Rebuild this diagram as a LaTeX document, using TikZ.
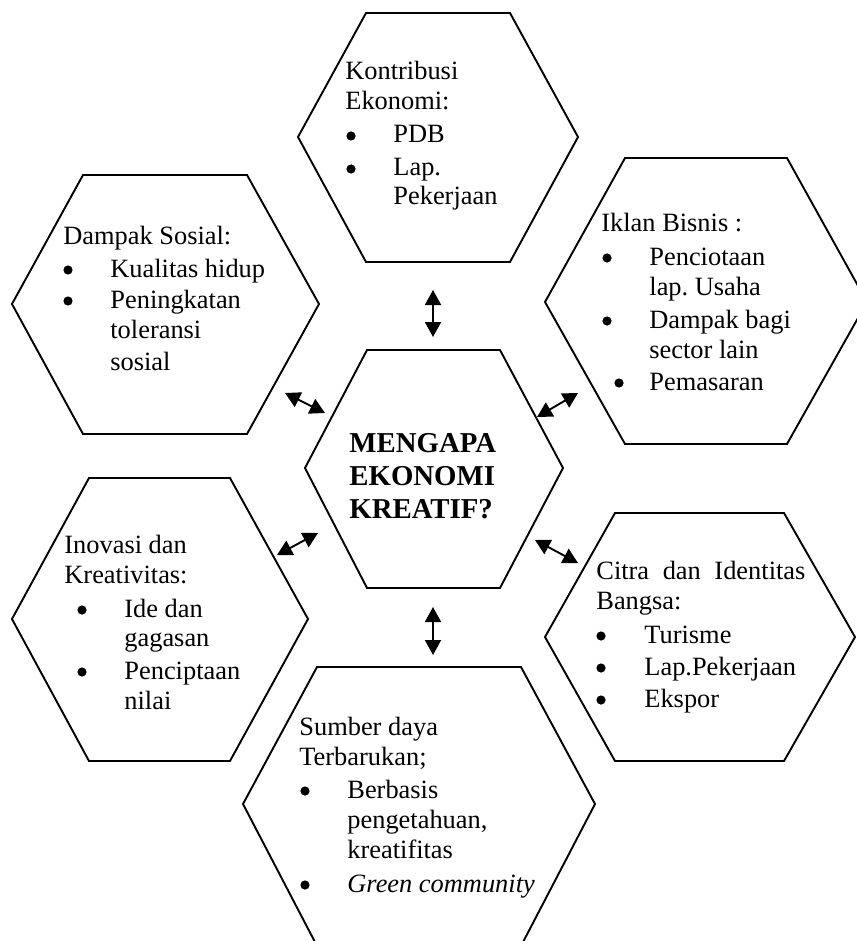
\documentclass[tikz,border=0pt]{standalone}
\usepackage{fontspec}
\setmainfont{Liberation Serif}
\usetikzlibrary{arrows.meta}
\frenchspacing
\begin{document}
\begin{tikzpicture}[x=0.5pt,y=-0.5pt,
  hexa/.style={draw=black, line width=0.95pt, line join=miter},
  txt/.style={anchor=base west, inner sep=0pt, font=\fontsize{13.2pt}{15pt}\selectfont},
  itl/.style={txt, font=\fontsize{13.2pt}{15pt}\selectfont\itshape},
  dot/.style={circle, fill=black, inner sep=0pt, minimum size=4.6pt},
  ttl/.style={anchor=base west, inner sep=0pt, font=\fontsize{14.4pt}{17pt}\selectfont\bfseries},
  link/.style={line width=0.95pt, {Triangle[length=7.5pt,width=8pt]}-{Triangle[length=7.5pt,width=8pt]}}
]
\useasboundingbox (0,0) rectangle (856,941);

% hexagons
\draw[hexa] (298,137) -- (366,13) -- (510,13) -- (578,137) -- (510,262) -- (366,262) -- cycle;
\draw[hexa] (12,304) -- (83,175) -- (247,175) -- (319,304) -- (247,434) -- (83,434) -- cycle;
\draw[hexa] (545,302) -- (625,158) -- (787,158) -- (867,302) -- (787,444) -- (625,444) -- cycle;
\draw[hexa] (305,468) -- (367,350) -- (500,350) -- (563,468) -- (500,588) -- (367,588) -- cycle;
\draw[hexa] (12,619) -- (89,478) -- (230,478) -- (308,619) -- (230,761) -- (89,761) -- cycle;
\draw[hexa] (243,804) -- (317,667) -- (521,667) -- (595,804) -- (522,944) -- (316,944) -- cycle;
\draw[hexa] (545,637) -- (615,513) -- (784,513) -- (855,637) -- (784,761) -- (615,761) -- cycle;

% Kontribusi Ekonomi
\node[txt] (k1) at (345,80) {Kontribusi};
\node[txt] (k2) at (345,110) {Ekonomi:};
\node[dot] (kb1) at (351,136) {};
\node[txt] (k3) at (393,143) {PDB};
\node[dot] (kb2) at (351,169) {};
\node[txt] (k4) at (393,176) {Lap.};
\node[txt] (k5) at (393,205) {Pekerjaan};

% Dampak Sosial
\node[txt] (d1) at (63,244) {Dampak Sosial:};
\node[dot] (db1) at (68,270) {};
\node[txt] (d2) at (110,277) {Kualitas hidup};
\node[dot] (db2) at (68,301) {};
\node[txt] (d3) at (110,308) {Peningkatan};
\node[txt] (d4) at (110,338) {toleransi};
\node[txt] (d5) at (110,370) {sosial};

% Iklan Bisnis
\node[txt] (i1) at (601,232) {Iklan Bisnis :};
\node[dot] (ib1) at (607,258) {};
\node[txt] (i2) at (649,265) {Penciotaan};
\node[txt] (i3) at (649,295) {lap. Usaha};
\node[dot] (ib2) at (607,321) {};
\node[txt] (i4) at (649,328) {Dampak bagi};
\node[txt] (i5) at (649,358) {sector lain};
\node[dot] (ib3) at (619,383) {};
\node[txt] (i6) at (649,390) {Pemasaran};

% Center
\node[ttl] (c1) at (349,452) {MENGAPA};
\node[ttl] (c2) at (349,485) {EKONOMI};
\node[ttl] (c3) at (349,518) {KREATIF?};

% Inovasi dan Kreativitas
\node[txt] (n1) at (64,553) {Inovasi dan};
\node[txt] (n2) at (64,583) {Kreativitas:};
\node[dot] (nb1) at (82,610) {};
\node[txt] (n3) at (124,617) {Ide dan};
\node[txt] (n4) at (124,646) {gagasan};
\node[dot] (nb2) at (82,672) {};
\node[txt] (n5) at (124,679) {Penciptaan};
\node[txt] (n6) at (124,709) {nilai};

% Sumber daya
\node[txt] (s1) at (299,735) {Sumber daya};
\node[txt] (s2) at (299,765) {Terbarukan;};
\node[dot] (sb1) at (305,791) {};
\node[txt] (s3) at (347,798) {Berbasis};
\node[txt] (s4) at (347,828) {pengetahuan,};
\node[txt] (s5) at (347,858) {kreatifitas};
\node[dot] (sb2) at (305,885) {};
\node[itl] (s6) at (347,892) {Green community};

% Citra dan Identitas Bangsa
\node[txt] (t1) at (596,579) {\makebox[104.5pt][s]{Citra dan Identitas}};
\node[txt] (t2) at (596,609) {Bangsa:};
\node[dot] (tb1) at (601,636) {};
\node[txt] (t3) at (644,643) {Turisme};
\node[dot] (tb2) at (601,668) {};
\node[txt] (t4) at (644,675) {Lap.Pekerjaan};
\node[dot] (tb3) at (601,700) {};
\node[txt] (t5) at (644,707) {Ekspor};

% arrow end points
\coordinate (a1s) at (433,290); \coordinate (a1e) at (433,337);
\coordinate (a2s) at (285,393); \coordinate (a2e) at (325,413);
\coordinate (a3s) at (537,417); \coordinate (a3e) at (578,393);
\coordinate (a4s) at (277,555); \coordinate (a4e) at (318,533);
\coordinate (a5s) at (535,540); \coordinate (a5e) at (578,563);
\coordinate (a6s) at (433,607); \coordinate (a6e) at (433,655);

\draw[link] (a1s) -- (a1e);
\draw[link] (a2s) -- (a2e);
\draw[link] (a3s) -- (a3e);
\draw[link] (a4s) -- (a4e);
\draw[link] (a5s) -- (a5e);
\draw[link] (a6s) -- (a6e);
\end{tikzpicture}
\end{document}
